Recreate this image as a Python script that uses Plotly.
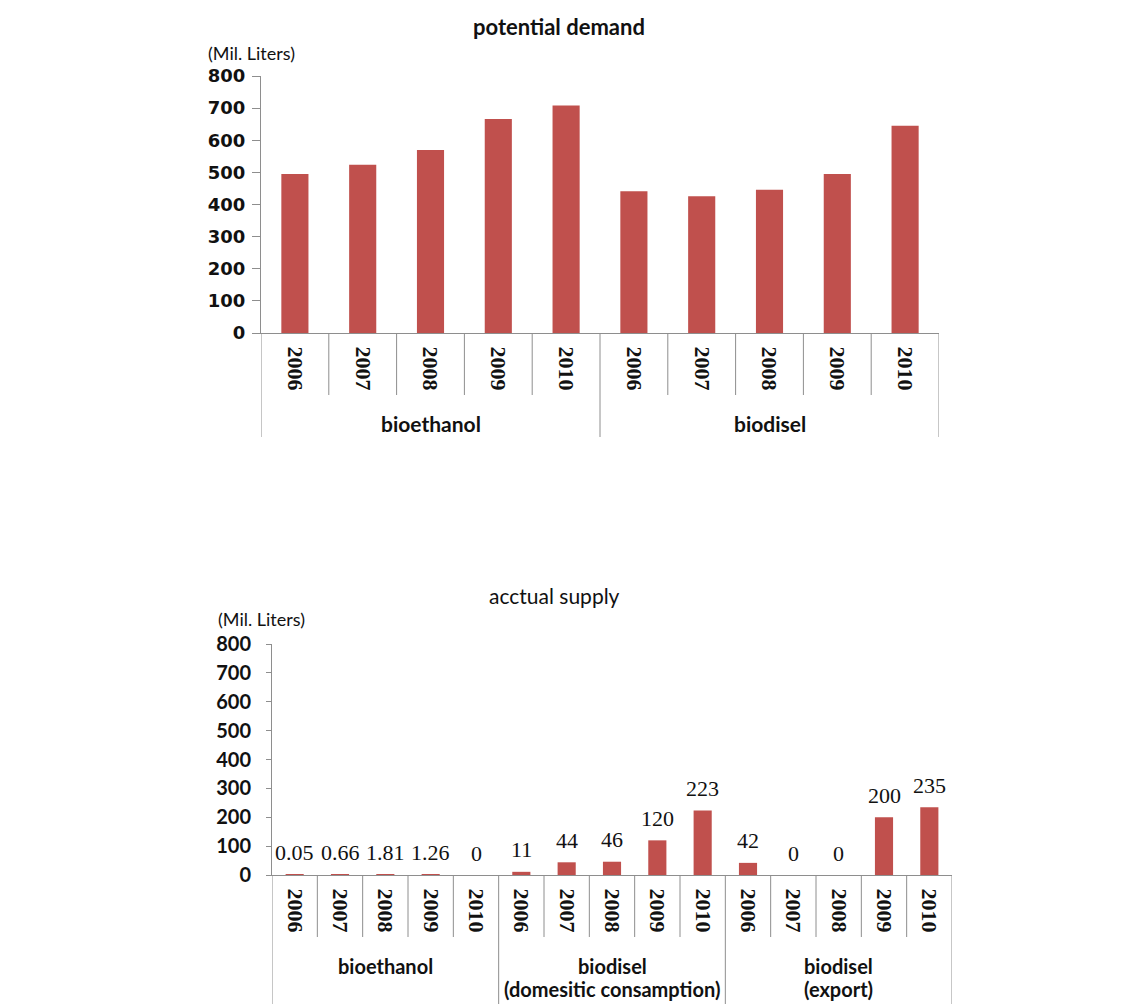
import plotly.graph_objects as go

# ---------------- data ----------------
years = ["2006", "2007", "2008", "2009", "2010"]

demand_groups = ["bioethanol", "biodisel"]
demand_bioethanol = [495, 524, 570, 666, 708]
demand_biodisel = [441, 426, 446, 495, 645]

supply_groups = ["bioethanol", "biodisel<br>(domesitic consamption)", "biodisel<br>(export)"]
supply_bioethanol = [0.05, 0.66, 1.81, 1.26, 0]
supply_biodisel_dom = [11, 44, 46, 120, 223]
supply_biodisel_exp = [42, 0, 0, 200, 235]

y_ticks = [0, 100, 200, 300, 400, 500, 600, 700, 800]

top_title = "potential demand"
bottom_title = "acctual supply"
unit_label = "(Mil. Liters)"

# ---------------- styling ----------------
W, H = 1138, 1004
BAR = "#C0504D"
AX = "#8E8E8E"
TXT = "#111111"
SANS = "Lato"
SERIF = "Liberation Serif"


def px(x):
    return x / W


def py(y):
    return 1 - y / H


top_vals = demand_bioethanol + demand_biodisel
top_years = years * len(demand_groups)
bot_vals = supply_bioethanol + supply_biodisel_dom + supply_biodisel_exp
bot_years = years * len(supply_groups)

top_x = list(range(len(top_vals)))
bot_x = list(range(len(bot_vals)))

fig = go.Figure()
fig.add_trace(go.Bar(x=top_x, y=top_vals, marker=dict(color=BAR, line=dict(width=0)),
                     xaxis="x", yaxis="y", hoverinfo="y"))
fig.add_trace(go.Bar(x=bot_x, y=bot_vals, marker=dict(color=BAR, line=dict(width=0)),
                     xaxis="x2", yaxis="y2", hoverinfo="y"))

# geometry (pixels)
top_left, top_right, top_zero, top_800 = 261, 939, 333, 76
bot_left, bot_right, bot_zero, bot_800 = 272, 952, 875, 644

xaxis_common = dict(showline=True, linecolor=AX, linewidth=1, ticks="", showgrid=False,
                    zeroline=False, tickangle=90, fixedrange=True, automargin=False,
                    tickfont=dict(family=SERIF, size=22, color=TXT, weight="bold"))
fig.update_layout(
    width=W, height=H, autosize=False,
    margin=dict(l=0, r=0, t=0, b=0, pad=0, autoexpand=False),
    paper_bgcolor="white", plot_bgcolor="white",
    showlegend=False, bargap=0.6,
    xaxis=dict(domain=[px(top_left), px(top_right)], range=[-0.5, len(top_vals) - 0.5],
               tickvals=top_x, ticktext=top_years, anchor="y", ticklabelstandoff=8,
               **xaxis_common),
    xaxis2=dict(domain=[px(bot_left), px(bot_right)], range=[-0.5, len(bot_vals) - 0.5],
                tickvals=bot_x, ticktext=bot_years, anchor="y2", ticklabelstandoff=8,
                **xaxis_common),
    yaxis=dict(domain=[py(top_zero), py(top_800)], range=[0, 800], tickvals=y_ticks,
               showline=True, linecolor=AX, ticks="outside", ticklen=8, tickcolor=AX,
               showgrid=False, zeroline=False, anchor="x", ticklabelstandoff=3,
               automargin=False, fixedrange=True,
               tickfont=dict(family="DejaVu Sans", size=18, color=TXT, weight="bold")),
    yaxis2=dict(domain=[py(bot_zero), py(bot_800)], range=[0, 800], tickvals=y_ticks,
                showline=True, linecolor=AX, ticks="outside", ticklen=5, tickcolor=AX,
                showgrid=False, zeroline=False, anchor="x2", ticklabelstandoff=11,
                automargin=False, fixedrange=True,
                tickfont=dict(family=SANS, size=20, color=TXT, weight="bold")),
)

shapes = []
annotations = []


def add_dividers(xref, n_groups, group_len, y_zero, y_inner, y_outer):
    n = n_groups * group_len
    for i in range(n + 1):
        outer = (i % group_len == 0)
        shapes.append(dict(type="line", xref=xref, yref="paper",
                           x0=i - 0.5, x1=i - 0.5, y0=py(y_zero),
                           y1=py(y_outer if outer else y_inner),
                           line=dict(color=AX, width=1)))


add_dividers("x", len(demand_groups), len(years), top_zero, 395, 437)
add_dividers("x2", len(supply_groups), len(years), bot_zero, 937, 1010)

# group labels
for g, name in enumerate(demand_groups):
    annotations.append(dict(xref="x", yref="paper", x=g * len(years) + (len(years) - 1) / 2,
                            y=py(423), text=name, showarrow=False, yanchor="middle",
                            font=dict(family=SANS, size=21, color=TXT, weight="bold")))
line_centers = [966, 989]
for g, name in enumerate(supply_groups):
    for k, line in enumerate(name.split("<br>")):
        annotations.append(dict(xref="x2", yref="paper",
                                x=g * len(years) + (len(years) - 1) / 2,
                                y=py(line_centers[k]), text=line, showarrow=False,
                                yanchor="middle",
                                font=dict(family=SANS, size=20, color=TXT, weight="bold")))

# value labels (bottom chart)
for i, v in enumerate(bot_vals):
    annotations.append(dict(xref="x2", yref="y2", x=i, y=v, text=f"{v:g}", showarrow=False,
                            yanchor="middle", yshift=22,
                            font=dict(family=SERIF, size=22, color=TXT)))

# titles and unit labels
annotations.append(dict(xref="paper", yref="paper", x=px(559), y=py(27), text=top_title,
                        showarrow=False, yanchor="middle",
                        font=dict(family=SANS, size=22, color=TXT, weight="bold")))
annotations.append(dict(xref="paper", yref="paper", x=px(554), y=py(595), text=bottom_title,
                        showarrow=False, yanchor="middle",
                        font=dict(family=SANS, size=21, color=TXT)))
annotations.append(dict(xref="paper", yref="paper", x=px(206), y=py(53), text=unit_label,
                        xanchor="left", yanchor="middle", showarrow=False,
                        font=dict(family=SANS, size=18, color=TXT)))
annotations.append(dict(xref="paper", yref="paper", x=px(216), y=py(619), text=unit_label,
                        xanchor="left", yanchor="middle", showarrow=False,
                        font=dict(family=SANS, size=18, color=TXT)))

fig.update_layout(shapes=shapes, annotations=annotations)
fig.write_html("out.html", config={"displayModeBar": False},
               post_script="document.body.style.margin='0';document.body.style.padding='0';")
